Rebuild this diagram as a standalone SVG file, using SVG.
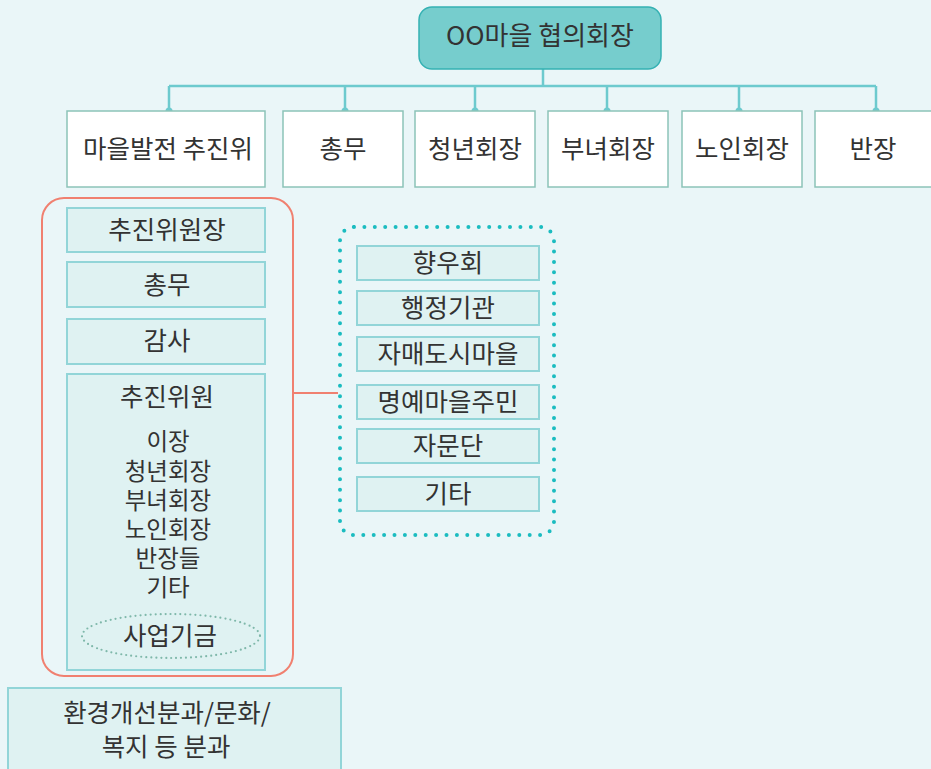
<svg xmlns="http://www.w3.org/2000/svg" width="931" height="769" viewBox="0 0 931 769">
<style>
text{font-family:"Noto Sans CJK KR","Noto Sans",sans-serif;fill:#333;text-anchor:middle}
.t24{font-size:25.5px}
.t22{font-size:23.5px}
.top{fill:#fff;stroke:#8cc3b8;stroke-width:1.5}
.inner{fill:#dff2f2;stroke:#92d5d8;stroke-width:2}
.conn{fill:none;stroke:#6dcace;stroke-width:2.5}
.dot{fill:#6dcace}
</style>
<rect width="931" height="769" fill="#eaf6f8"/>
<g id="connectors">
<path class="conn" d="M543 69V86M169 86H876M169 86V111M345 86V111M475 86V111M607 86V111M739 86V111M876 86V111"/>
<circle class="dot" cx="169" cy="111" r="3.5"/>
<circle class="dot" cx="345" cy="111" r="3.5"/>
<circle class="dot" cx="475" cy="111" r="3.5"/>
<circle class="dot" cx="607" cy="111" r="3.5"/>
<circle class="dot" cx="739" cy="111" r="3.5"/>
<circle class="dot" cx="876" cy="111" r="3.5"/>
<path d="M293 393H338" stroke="#f08070" stroke-width="2" fill="none"/>
</g>
<g id="head">
<rect x="419" y="7" width="242" height="62" rx="13" fill="#76cdcd" stroke="#35b1b3" stroke-width="1.5"/>
<text x="540" y="45" style="font-size:26px">OO마을 협의회장</text>
</g>
<g id="n1"><rect class="top" x="67" y="111" width="198" height="76"/><text class="t24" x="168" y="158">마을발전 추진위</text></g>
<g id="n2"><rect class="top" x="283" y="111" width="120" height="76"/><text class="t24" x="343" y="158">총무</text></g>
<g id="n3"><rect class="top" x="415" y="111" width="120" height="76"/><text class="t24" x="475" y="158">청년회장</text></g>
<g id="n4"><rect class="top" x="548" y="111" width="120" height="76"/><text class="t24" x="608" y="158">부녀회장</text></g>
<g id="n5"><rect class="top" x="682" y="111" width="120" height="76"/><text class="t24" x="742" y="158">노인회장</text></g>
<g id="n6"><rect class="top" x="815" y="111" width="122" height="76"/><text class="t24" x="873" y="158">반장</text></g>
<g id="committee">
<rect x="42" y="198" width="251" height="478" rx="22" fill="none" stroke="#f08070" stroke-width="2"/>
<g id="c1"><rect class="inner" x="67" y="208" width="198" height="44"/><text class="t24" x="167" y="239">추진위원장</text></g>
<g id="c2"><rect class="inner" x="67" y="262" width="198" height="45"/><text class="t24" x="167" y="294">총무</text></g>
<g id="c3"><rect class="inner" x="67" y="319" width="198" height="45"/><text class="t24" x="167" y="350">감사</text></g>
<g id="c4"><rect class="inner" x="67" y="374" width="198" height="296"/>
<text class="t24" x="167" y="406">추진위원</text>
<text class="t22" x="168" y="450">이장</text>
<text class="t22" x="168" y="480">청년회장</text>
<text class="t22" x="168" y="509">부녀회장</text>
<text class="t22" x="168" y="538">노인회장</text>
<text class="t22" x="168" y="567">반장들</text>
<text class="t22" x="168" y="596">기타</text>
<ellipse cx="171" cy="636" rx="89" ry="22" fill="none" stroke="#7fb8aa" stroke-width="2.2" stroke-dasharray="0 5" stroke-linecap="round"/>
<text class="t24" x="170" y="645">사업기금</text>
</g>
</g>
<g id="partners">
<rect x="340" y="227" width="214" height="308" rx="14" fill="none" stroke="#1bbcc0" stroke-width="4" stroke-dasharray="0 10.4" stroke-linecap="round"/>
<g id="p1"><rect class="inner" x="357" y="246" width="182" height="34"/><text class="t24" x="448" y="272">향우회</text></g>
<g id="p2"><rect class="inner" x="357" y="291" width="182" height="34"/><text class="t24" x="448" y="317">행정기관</text></g>
<g id="p3"><rect class="inner" x="357" y="337" width="182" height="34"/><text class="t24" x="448" y="363">자매도시마을</text></g>
<g id="p4"><rect class="inner" x="357" y="385" width="182" height="34"/><text class="t24" x="448" y="411">명예마을주민</text></g>
<g id="p5"><rect class="inner" x="357" y="429" width="182" height="34"/><text class="t24" x="448" y="455">자문단</text></g>
<g id="p6"><rect class="inner" x="357" y="477" width="182" height="34"/><text class="t24" x="448" y="503">기타</text></g>
</g>
<g id="sub">
<rect class="inner" x="8" y="688" width="333" height="90"/>
<text class="t24" x="167" y="722">환경개선분과/문화/</text>
<text class="t24" x="166" y="756">복지 등 분과</text>
</g>
</svg>
